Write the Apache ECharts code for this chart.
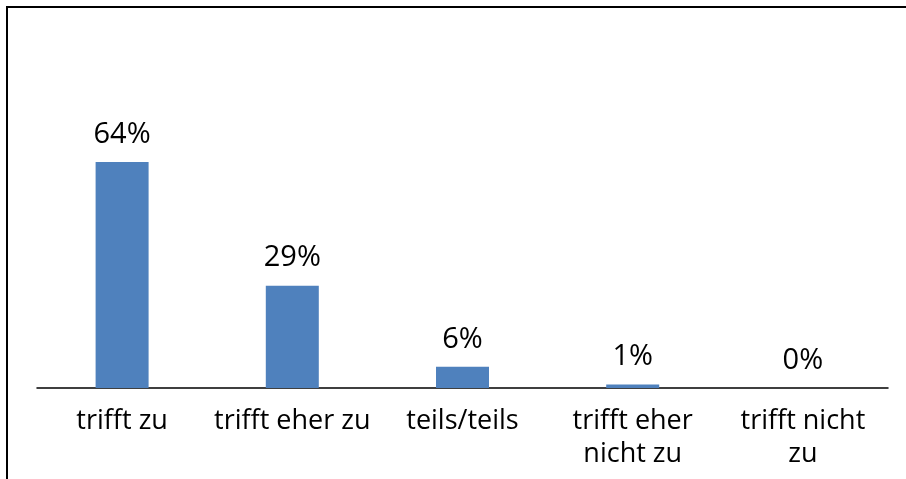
<!DOCTYPE html>
<html>
<head>
<meta charset="utf-8">
<script src="https://cdn.jsdelivr.net/npm/echarts@6/dist/echarts.min.js"></script>
<style>
	html, body { margin: 0; padding: 0; background: #fff; }
	#chart { width: 906px; height: 479px; }
</style>
</head>
<body>
<div id="chart"></div>
<script>
	var categories = ['trifft zu', 'trifft eher zu', 'teils/teils', 'trifft eher\nnicht zu', 'trifft nicht\nzu'];
	var percents = [64, 29, 6, 1, 0];

	var myChart = echarts.init(document.getElementById('chart'));

	var option = {
		animation: false,
		backgroundColor: '#fff',
		textStyle: { fontFamily: 'Open Sans' },
		// frame: only left and top edges are visible in the picture
		graphic: [{
			type: 'polyline',
			shape: { points: [[7, 600], [7, 7], [1000, 7]] },
			style: { fill: 'none', stroke: '#000', lineWidth: 2 },
			silent: true
		}],
		grid: { left: 37, right: 18, top: 35, bottom: 91 },
		xAxis: {
			type: 'category',
			data: categories,
			axisLine: { lineStyle: { color: '#000', width: 1.5 } },
			axisTick: { show: false },
			axisLabel: {
				interval: 0,
				color: '#000',
				fontSize: 27,
				lineHeight: 33,
				margin: 17
			}
		},
		yAxis: {
			type: 'value',
			min: 0,
			max: 100,
			show: false,
			splitLine: { show: false }
		},
		series: [{
			type: 'bar',
			data: percents,
			barWidth: 53,
			itemStyle: { color: '#4f81bd' },
			label: {
				show: true,
				position: 'top',
				distance: 13,
				color: '#000',
				fontSize: 29,
				formatter: '{c}%'
			}
		}]
	};

	myChart.setOption(option);
</script>
</body>
</html>
